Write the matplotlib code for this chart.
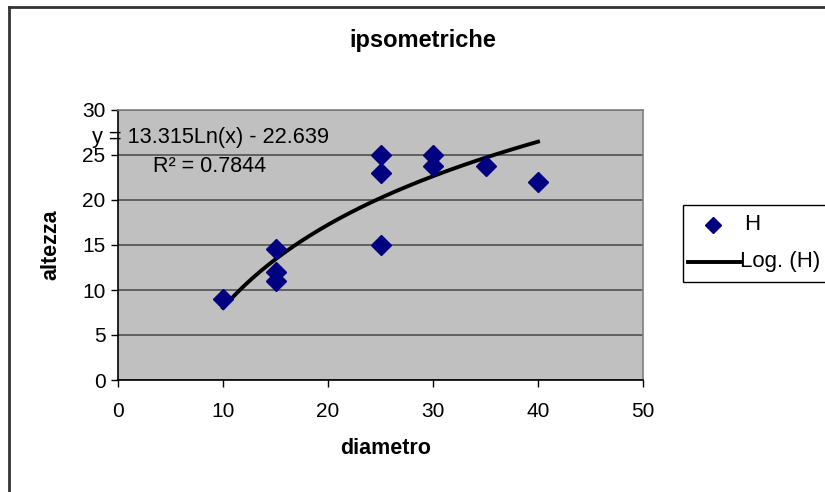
import numpy as np
import matplotlib
matplotlib.use("Agg")
import matplotlib.pyplot as plt
from matplotlib.lines import Line2D
from matplotlib.patches import Rectangle

plt.rcParams['font.family'] = ['Liberation Sans', 'DejaVu Sans']

# Data
diametro = [10, 15, 15, 15, 25, 25, 25, 30, 30, 35, 40]
altezza = [9, 14.5, 12, 11, 25, 23, 15, 25, 23.8, 23.8, 22]
coef_a = 13.315
coef_b = -22.639
xticks = [0, 10, 20, 30, 40, 50]
yticks = [0, 5, 10, 15, 20, 25, 30]

fig = plt.figure(figsize=(8.25, 4.92), dpi=100)
ax = fig.add_axes([118/825, 1-380/492, (643-118)/825, (380-110)/492])
ax.set_facecolor('#C0C0C0')

ax.set_xlim(0, 50)
ax.set_ylim(0, 30)
ax.set_xticks(xticks)
ax.set_yticks(yticks)
ax.yaxis.grid(True, color='#505050', linewidth=1.2)
ax.set_axisbelow(True)

for s in ['left', 'bottom']:
    ax.spines[s].set_color('black')
    ax.spines[s].set_linewidth(1.2)
for s in ['right', 'top']:
    ax.spines[s].set_color('#808080')
    ax.spines[s].set_linewidth(1.2)

ax.tick_params(axis='both', direction='out', length=5, width=1, labelsize=15, colors='black')
ax.tick_params(axis='x', pad=11)
ax.tick_params(axis='y', pad=4)

xs = np.linspace(min(diametro), max(diametro), 200)
ax.plot(xs, coef_a*np.log(xs) + coef_b, color='black', linewidth=2.8, zorder=2)
ax.plot(diametro, altezza, linestyle='none', marker='D', color='#000080', markersize=10, zorder=3)

fig.text(211/825, 1-137/492, 'y = 13.315Ln(x) - 22.639', fontsize=15.7, ha='center', va='center')
fig.text(210/825, 1-166/492, 'R\u00b2 = 0.7844', fontsize=15.5, ha='center', va='center')

fig.text(423/825, 1-40/492, 'ipsometriche', fontsize=17, fontweight='bold', ha='center', va='center')
fig.text(386/825, 1-448/492, 'diametro', fontsize=15.5, fontweight='bold', ha='center', va='center')
fig.text(51/825, 1-245/492, 'altezza', fontsize=15.5, fontweight='bold', ha='center', va='center', rotation=90)

# chart border (left and top only visible)
fig.add_artist(Line2D([9/825, 9/825], [0, 1-7/492], color='#333333', linewidth=2, transform=fig.transFigure))
fig.add_artist(Line2D([9/825, 1], [1-7/492, 1-7/492], color='#333333', linewidth=2, transform=fig.transFigure))

# legend box
fig.add_artist(Rectangle((683/825, 1-282/492), (830-683)/825, (282-205)/492, transform=fig.transFigure,
                         facecolor='white', edgecolor='black', linewidth=1))
fig.add_artist(Line2D([713/825], [1-225/492], marker='D', color='#000080', markersize=8.5,
                      linestyle='none', transform=fig.transFigure))
fig.add_artist(Line2D([688/825, 741/825], [1-262/492, 1-262/492], color='black', linewidth=2.8,
                      transform=fig.transFigure))
fig.text(744/825, 1-225/492, 'H', fontsize=16, ha='left', va='center')
fig.text(740/825, 1-262/492, 'Log. (H)', fontsize=16, ha='left', va='center')

fig.savefig('out.png', dpi=100)
